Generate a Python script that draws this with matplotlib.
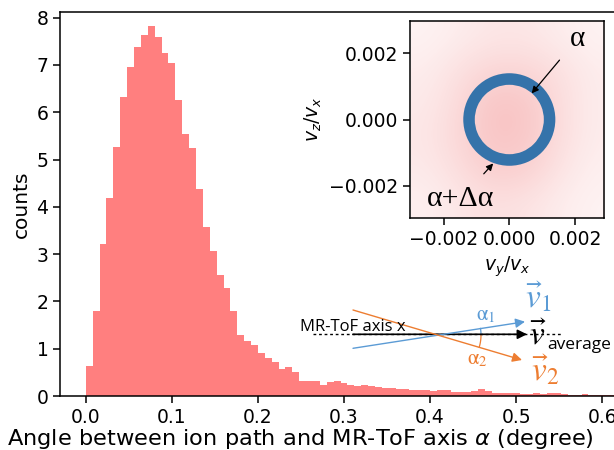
import numpy as np
import matplotlib
matplotlib.use("Agg")
import matplotlib.pyplot as plt
from matplotlib.patches import Wedge
from matplotlib.colors import LinearSegmentedColormap

# ---- data ----
bin_width = 0.008
counts = [0.63, 1.79, 3.21, 4.18, 5.26, 6.32, 6.96, 7.37, 7.63, 7.83,
          7.60, 7.25, 7.05, 6.26, 5.55, 5.24, 4.37, 3.58, 3.07, 2.56,
          2.28, 1.80, 1.28, 1.16, 1.08, 0.90, 0.81, 0.71, 0.58, 0.61,
          0.51, 0.31, 0.32, 0.32, 0.23, 0.30, 0.32, 0.28, 0.23, 0.21,
          0.23, 0.21, 0.20, 0.17, 0.17, 0.15, 0.14, 0.13, 0.13, 0.12,
          0.10, 0.12, 0.12, 0.09, 0.08, 0.09, 0.10, 0.15, 0.10, 0.07,
          0.07, 0.06, 0.06, 0.05, 0.04, 0.06, 0.04, 0.06, 0.06, 0.04,
          0.03, 0.03, 0.04, 0.03, 0.03, 0.02, 0.02, 0.02, 0.02, 0.01]
bin_left = [i * bin_width for i in range(len(counts))]

xticks_main = [0.0, 0.1, 0.2, 0.3, 0.4, 0.5, 0.6]
yticks_main = [0, 1, 2, 3, 4, 5, 6, 7, 8]

# inset: relative density of the scattered points read on a coarse grid
# rows top (vz=+0.003) to bottom (vz=-0.003), columns left to right
density = [
    [0.20, 0.30, 0.40, 0.40, 0.30, 0.20],
    [0.30, 0.50, 0.65, 0.65, 0.50, 0.30],
    [0.35, 0.60, 0.95, 0.90, 0.55, 0.30],
    [0.40, 0.65, 0.95, 0.90, 0.55, 0.30],
    [0.35, 0.55, 0.80, 0.75, 0.45, 0.25],
    [0.25, 0.40, 0.50, 0.45, 0.30, 0.20],
]
ring_inner = 0.00105
ring_outer = 0.00140
inset_ticks = [-0.002, 0.0, 0.002]
inset_ticklabels = ['\u22120.002', '0.000', '0.002']

W, H = 614, 450
fig = plt.figure(figsize=(W / 100, H / 100), dpi=100)

# ---- main axes (right edge extends beyond the cropped figure) ----
ax = fig.add_axes([60 / W, 54 / H, (628 - 60) / W, (396 - 12) / H])
ax.bar(bin_left, counts, width=bin_width, align='edge', color='red',
       alpha=0.5, linewidth=0)
ax.set_xlim(-0.03, 0.63)
ax.set_ylim(0, 8.12)
ax.set_xticks(xticks_main)
ax.set_yticks(yticks_main)
ax.tick_params(labelsize=13.5, length=4.8, width=1.1)
for s in ax.spines.values():
    s.set_linewidth(1.1)
ax.set_ylabel('counts', fontsize=14.5)
fig.text(300 / W, 1 - 439 / H,
         r'Angle between ion path and MR-ToF axis $\alpha$ (degree)',
         fontsize=16.2, ha='center', va='center', math_fontfamily='dejavusans')

# ---- inset ----
ins = fig.add_axes([410 / W, (H - 218) / H, 194 / W, 197 / H])
cmap = LinearSegmentedColormap.from_list('pinks', ['#ffffff', '#f07070'])
ins.imshow(np.array(density), extent=(-0.003, 0.003, -0.003, 0.003),
           cmap=cmap, vmin=0, vmax=2.3, interpolation='bicubic',
           aspect='auto', zorder=0)
ins.add_patch(Wedge((0, 0), ring_outer, 0, 360, width=ring_outer - ring_inner,
                    facecolor='#2a6ea8', edgecolor='none', alpha=0.95, zorder=2))
ins.set_xlim(-0.00302, 0.00288)
ins.set_ylim(-0.00298, 0.00298)
ins.set_xticks(inset_ticks)
ins.set_xticklabels(inset_ticklabels)
ins.set_yticks(inset_ticks)
ins.set_yticklabels(inset_ticklabels)
ins.tick_params(labelsize=13.5, length=4.8, width=1.1)
for s in ins.spines.values():
    s.set_linewidth(1.1)
ins.set_xlabel(r'$v_y/v_x$', fontsize=13.5, math_fontfamily='dejavusans')
ins.set_ylabel(r'$v_z/v_x$', fontsize=13.5, math_fontfamily='dejavusans')

ins.annotate('\u03b1', xy=(0.00068, 0.00079), xytext=(0.00206, 0.00243),
             fontsize=21, ha='center', va='center', family='Liberation Serif',
             arrowprops=dict(arrowstyle='-|>', color='black', lw=0.9,
                             mutation_scale=10, shrinkA=8, shrinkB=0))
ins.annotate('\u03b1+\u0394\u03b1', xy=(-0.00049, -0.00133),
             xytext=(-0.00147, -0.00240),
             fontsize=21.5, ha='center', va='center', family='Liberation Serif',
             arrowprops=dict(arrowstyle='-|>', color='black', lw=0.9,
                             mutation_scale=10, shrinkA=9, shrinkB=0))

# ---- overlay diagram in pixel coordinates ----
ov = fig.add_axes([0, 0, 1, 1], zorder=5)
ov.set_xlim(0, W)
ov.set_ylim(H, 0)
ov.axis('off')
ov.patch.set_alpha(0)

blue = '#5b9bd5'
orange = '#ed7d31'
ov.plot([313, 562], [334.3, 334.3], color='black', lw=1.0, ls=(0, (2, 2)))
ov.annotate('', xy=(527, 334.3), xytext=(353, 334.3),
            arrowprops=dict(arrowstyle='-|>', color='black', lw=1.2,
                            mutation_scale=14, shrinkA=0, shrinkB=0))
ov.annotate('', xy=(525, 321.7), xytext=(353, 348.3),
            arrowprops=dict(arrowstyle='-|>', color=blue, lw=1.0,
                            mutation_scale=14, shrinkA=0, shrinkB=0))
ov.annotate('', xy=(522, 360), xytext=(353, 310),
            arrowprops=dict(arrowstyle='-|>', color=orange, lw=1.0,
                            mutation_scale=14, shrinkA=0, shrinkB=0))
cx, cy, r = 438, 335, 43
th1 = np.radians(np.linspace(0, 8.8, 20))
ov.plot(cx + r * np.cos(th1), cy - r * np.sin(th1), color=blue, lw=0.9)
th2 = np.radians(np.linspace(0, -16.5, 20))
ov.plot(cx + r * np.cos(th2), cy - r * np.sin(th2), color=orange, lw=0.9)

ov.text(300, 327, 'MR-ToF axis x', fontsize=12, ha='left', va='center',
        fontfamily='Open Sans')
ov.text(486, 315, r'$\mathrm{\alpha}_1$', fontsize=15, color=blue,
        ha='center', va='center', math_fontfamily='stix')
ov.text(477, 359, r'$\mathrm{\alpha}_2$', fontsize=15, color=orange,
        ha='center', va='center', math_fontfamily='stix')
ov.text(538, 297, r'$\vec{v}_1$', fontsize=24, color=blue, ha='center',
        va='center', math_fontfamily='stix')
ov.text(538, 335, r'$\vec{v}$', fontsize=24, color='black', ha='center',
        va='center', math_fontfamily='stix')
ov.text(547, 345, 'average', fontsize=12.5, color='black', ha='left',
        va='center', fontfamily='Open Sans')
ov.text(545, 370, r'$\vec{v}_2$', fontsize=24, color=orange, ha='center',
        va='center', math_fontfamily='stix')

fig.savefig('out.png', dpi=100)
